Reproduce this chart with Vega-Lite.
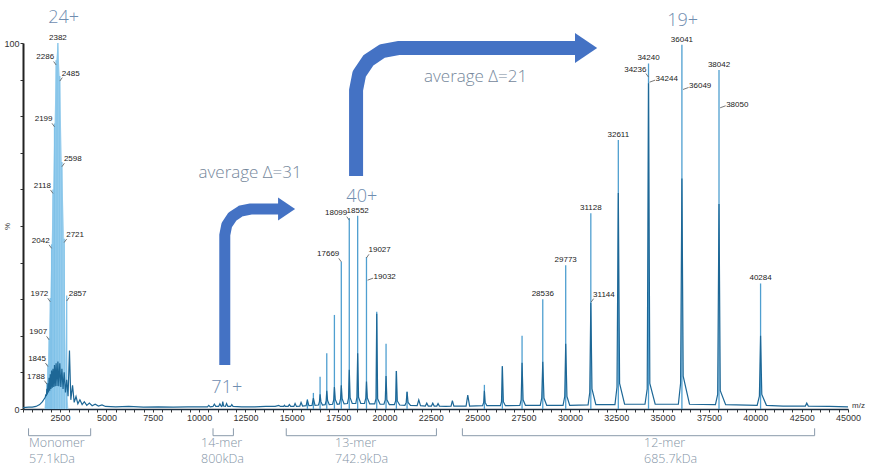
{
  "$schema": "https://vega.github.io/schema/vega-lite/v6.json",
  "width": 825,
  "height": 366,
  "autosize": {"type": "none"},
  "padding": {"left": 23, "top": 43, "right": 21, "bottom": 66},
  "background": "white",
  "config": {"view": {"stroke": null}, "font": "Liberation Sans"},
  "datasets": {
    "envelope": [
      {"x": 1650, "y": 0}, {"x": 1731, "y": 3.5}, {"x": 1788, "y": 7.2}, {"x": 1845, "y": 12.2},
      {"x": 1907, "y": 19.5}, {"x": 1972, "y": 30.3}, {"x": 2042, "y": 45}, {"x": 2118, "y": 60},
      {"x": 2199, "y": 78}, {"x": 2286, "y": 95.3}, {"x": 2382, "y": 100}, {"x": 2485, "y": 91},
      {"x": 2598, "y": 67.5}, {"x": 2721, "y": 46.5}, {"x": 2790, "y": 20}, {"x": 2850, "y": 6}, {"x": 2950, "y": 0}
    ],
    "peaks": [
      {"x": 1731, "y": 3.5, "s": "m"}, {"x": 1788, "y": 7.2, "s": "m"}, {"x": 1845, "y": 12.2, "s": "m"},
      {"x": 1907, "y": 19.5, "s": "m"}, {"x": 1972, "y": 30.3, "s": "m"}, {"x": 2042, "y": 45, "s": "m"},
      {"x": 2118, "y": 60, "s": "m"}, {"x": 2199, "y": 78, "s": "m"}, {"x": 2286, "y": 95.3, "s": "m"},
      {"x": 2382, "y": 100, "s": "m"}, {"x": 2485, "y": 91, "s": "m"}, {"x": 2598, "y": 67.5, "s": "m"},
      {"x": 2721, "y": 46.5, "s": "m"}, {"x": 2857, "y": 31, "s": "m"},
      {"x": 15840, "y": 2.7, "s": "o"}, {"x": 16163, "y": 4.4, "s": "o"}, {"x": 16524, "y": 8.8, "s": "o"},
      {"x": 16885, "y": 15.2, "s": "o"}, {"x": 17297, "y": 25.7, "s": "o"}, {"x": 17669, "y": 40.2, "s": "o"},
      {"x": 18099, "y": 52.2, "s": "o"}, {"x": 18552, "y": 52.8, "s": "o"}, {"x": 19027, "y": 41.5, "s": "o"},
      {"x": 19580, "y": 26.6, "s": "o"}, {"x": 20083, "y": 17.8, "s": "o"}, {"x": 20640, "y": 10.4, "s": "o"},
      {"x": 21216, "y": 4.7, "s": "o"},
      {"x": 25387, "y": 6.6, "s": "o"}, {"x": 26357, "y": 11.7, "s": "o"}, {"x": 27419, "y": 20, "s": "o"},
      {"x": 28536, "y": 30, "s": "o"}, {"x": 29773, "y": 39.3, "s": "o"}, {"x": 31128, "y": 53.5, "s": "o"},
      {"x": 32611, "y": 73.5, "s": "o"}, {"x": 34240, "y": 94.4, "s": "o"}, {"x": 36041, "y": 99.5, "s": "o"},
      {"x": 38042, "y": 92.6, "s": "o"}, {"x": 40284, "y": 34.3, "s": "o"}
    ],
    "trace": [
      {"x": 500, "y": 0.4}, {"x": 800, "y": 0.5}, {"x": 1000, "y": 0.5}, {"x": 1200, "y": 0.7}, {"x": 1400, "y": 1.2},
      {"x": 1550, "y": 2.0}, {"x": 1650, "y": 2.8}, {"x": 1700, "y": 3.2}, {"x": 1731, "y": 4.0}, {"x": 1760, "y": 3.5},
      {"x": 1788, "y": 5.5}, {"x": 1815, "y": 4.0}, {"x": 1845, "y": 7.0}, {"x": 1875, "y": 4.5}, {"x": 1907, "y": 8.5},
      {"x": 1940, "y": 5.0}, {"x": 1972, "y": 9.5}, {"x": 2005, "y": 5.5}, {"x": 2042, "y": 10.5}, {"x": 2080, "y": 5.8},
      {"x": 2118, "y": 11.0}, {"x": 2160, "y": 6.0}, {"x": 2199, "y": 12.0}, {"x": 2240, "y": 6.2}, {"x": 2286, "y": 12.5},
      {"x": 2335, "y": 6.3}, {"x": 2382, "y": 13.0}, {"x": 2430, "y": 6.2}, {"x": 2485, "y": 12.5}, {"x": 2540, "y": 6.0},
      {"x": 2598, "y": 11.0}, {"x": 2660, "y": 5.5}, {"x": 2721, "y": 10.0}, {"x": 2790, "y": 4.5}, {"x": 2857, "y": 8.0},
      {"x": 2930, "y": 3.5}, {"x": 3006, "y": 16.0}, {"x": 3080, "y": 2.5}, {"x": 3173, "y": 6.5}, {"x": 3260, "y": 1.8},
      {"x": 3360, "y": 3.4}, {"x": 3460, "y": 1.4}, {"x": 3570, "y": 2.5}, {"x": 3690, "y": 1.2}, {"x": 3808, "y": 2.0},
      {"x": 3940, "y": 1.0}, {"x": 4080, "y": 1.6}, {"x": 4230, "y": 0.9}, {"x": 4393, "y": 1.3}, {"x": 4570, "y": 0.8},
      {"x": 4760, "y": 1.1}, {"x": 4950, "y": 0.7}, {"x": 5500, "y": 0.6}, {"x": 6200, "y": 0.7}, {"x": 7000, "y": 0.5},
      {"x": 7800, "y": 0.6}, {"x": 8600, "y": 0.5}, {"x": 9400, "y": 0.6}, {"x": 10200, "y": 0.6},
      {"x": 10450, "y": 0.6}, {"x": 10520, "y": 1.0}, {"x": 10600, "y": 0.6}, {"x": 10750, "y": 0.7}, {"x": 10820, "y": 1.3},
      {"x": 10900, "y": 0.7}, {"x": 11050, "y": 0.7}, {"x": 11120, "y": 1.4}, {"x": 11200, "y": 0.7}, {"x": 11240, "y": 0.8},
      {"x": 11276, "y": 2.0}, {"x": 11320, "y": 0.8}, {"x": 11420, "y": 0.7}, {"x": 11480, "y": 1.5}, {"x": 11550, "y": 0.7},
      {"x": 11700, "y": 0.7}, {"x": 11760, "y": 1.2}, {"x": 11830, "y": 0.7}, {"x": 12300, "y": 0.6}, {"x": 13000, "y": 0.6},
      {"x": 13600, "y": 0.7}, {"x": 14100, "y": 0.7}, {"x": 14300, "y": 1.0}, {"x": 14380, "y": 0.7}, {"x": 14560, "y": 0.7},
      {"x": 14600, "y": 1.0}, {"x": 14650, "y": 0.7},
      {"x": 14800, "y": 0.7}, {"x": 14868, "y": 1.2}, {"x": 14940, "y": 0.7},
      {"x": 15110, "y": 0.7}, {"x": 15175, "y": 1.5}, {"x": 15250, "y": 0.7},
      {"x": 15430, "y": 0.8}, {"x": 15499, "y": 1.8}, {"x": 15580, "y": 0.8},
      {"x": 15770, "y": 0.9}, {"x": 15840, "y": 2.4}, {"x": 15920, "y": 0.9},
      {"x": 16090, "y": 1.0}, {"x": 16163, "y": 3.0}, {"x": 16250, "y": 1.0},
      {"x": 16440, "y": 1.1}, {"x": 16490, "y": 2.0}, {"x": 16524, "y": 4.0}, {"x": 16570, "y": 2.0}, {"x": 16650, "y": 1.1},
      {"x": 16800, "y": 1.2}, {"x": 16850, "y": 2.2}, {"x": 16885, "y": 5.0}, {"x": 16930, "y": 2.3}, {"x": 17020, "y": 1.2},
      {"x": 17200, "y": 1.3}, {"x": 17260, "y": 2.5}, {"x": 17297, "y": 6.0}, {"x": 17345, "y": 2.6}, {"x": 17450, "y": 1.3},
      {"x": 17570, "y": 1.4}, {"x": 17630, "y": 2.8}, {"x": 17669, "y": 6.5}, {"x": 17715, "y": 2.8}, {"x": 17820, "y": 1.4},
      {"x": 18000, "y": 1.5}, {"x": 18060, "y": 3.0}, {"x": 18099, "y": 10.7}, {"x": 18145, "y": 3.1}, {"x": 18260, "y": 1.5},
      {"x": 18450, "y": 1.5}, {"x": 18510, "y": 3.2}, {"x": 18552, "y": 15.2}, {"x": 18600, "y": 3.2}, {"x": 18720, "y": 1.5},
      {"x": 18920, "y": 1.5}, {"x": 18990, "y": 3.0}, {"x": 19027, "y": 7.5}, {"x": 19075, "y": 3.0}, {"x": 19200, "y": 1.4},
      {"x": 19470, "y": 1.4}, {"x": 19540, "y": 2.8}, {"x": 19580, "y": 26.0}, {"x": 19630, "y": 2.8}, {"x": 19760, "y": 1.3},
      {"x": 19970, "y": 1.3}, {"x": 20040, "y": 2.5}, {"x": 20083, "y": 9.0}, {"x": 20130, "y": 2.5}, {"x": 20260, "y": 1.2},
      {"x": 20530, "y": 1.2}, {"x": 20600, "y": 2.2}, {"x": 20640, "y": 10.4}, {"x": 20690, "y": 2.2}, {"x": 20820, "y": 1.1},
      {"x": 21100, "y": 1.0}, {"x": 21170, "y": 1.8}, {"x": 21216, "y": 4.7}, {"x": 21270, "y": 1.8}, {"x": 21400, "y": 1.0},
      {"x": 21760, "y": 0.9}, {"x": 21848, "y": 2.5}, {"x": 21940, "y": 0.9},
      {"x": 22200, "y": 0.8}, {"x": 22279, "y": 1.6}, {"x": 22360, "y": 0.8},
      {"x": 22530, "y": 0.8}, {"x": 22602, "y": 1.6}, {"x": 22680, "y": 0.8},
      {"x": 22820, "y": 0.8}, {"x": 22888, "y": 1.5}, {"x": 22960, "y": 0.8},
      {"x": 23300, "y": 0.7},
      {"x": 23590, "y": 0.8}, {"x": 23661, "y": 2.3}, {"x": 23740, "y": 0.8},
      {"x": 24400, "y": 0.8}, {"x": 24490, "y": 3.8}, {"x": 24590, "y": 0.8},
      {"x": 25290, "y": 0.9}, {"x": 25350, "y": 1.8}, {"x": 25387, "y": 5.0}, {"x": 25430, "y": 1.8}, {"x": 25520, "y": 0.9},
      {"x": 26250, "y": 0.9}, {"x": 26310, "y": 2.0}, {"x": 26357, "y": 11.7}, {"x": 26410, "y": 2.0}, {"x": 26520, "y": 0.9},
      {"x": 27300, "y": 1.0}, {"x": 27370, "y": 2.5}, {"x": 27419, "y": 12.6}, {"x": 27475, "y": 2.5}, {"x": 27600, "y": 1.0},
      {"x": 28400, "y": 1.0}, {"x": 28480, "y": 3.0}, {"x": 28536, "y": 12.9}, {"x": 28600, "y": 3.0}, {"x": 28750, "y": 1.0},
      {"x": 29630, "y": 1.0}, {"x": 29720, "y": 3.4}, {"x": 29773, "y": 17.8}, {"x": 29840, "y": 3.4}, {"x": 29990, "y": 1.0},
      {"x": 30980, "y": 1.1}, {"x": 31070, "y": 4.5}, {"x": 31128, "y": 29.0}, {"x": 31190, "y": 5.5}, {"x": 31400, "y": 1.2},
      {"x": 32430, "y": 1.2}, {"x": 32540, "y": 6.0}, {"x": 32611, "y": 59.0}, {"x": 32680, "y": 7.0}, {"x": 32950, "y": 1.3},
      {"x": 34050, "y": 1.3}, {"x": 34170, "y": 5.5}, {"x": 34240, "y": 89.0}, {"x": 34310, "y": 7.0}, {"x": 34600, "y": 1.3},
      {"x": 35850, "y": 1.3}, {"x": 35970, "y": 7.0}, {"x": 36041, "y": 63.0}, {"x": 36110, "y": 9.0}, {"x": 36450, "y": 1.3},
      {"x": 37850, "y": 1.2}, {"x": 37970, "y": 4.0}, {"x": 38042, "y": 56.0}, {"x": 38110, "y": 5.0}, {"x": 38400, "y": 1.2},
      {"x": 40100, "y": 1.0}, {"x": 40220, "y": 3.5}, {"x": 40284, "y": 20.0}, {"x": 40350, "y": 4.0}, {"x": 40600, "y": 1.0},
      {"x": 41500, "y": 0.8},
      {"x": 42700, "y": 0.8}, {"x": 42775, "y": 1.6}, {"x": 42860, "y": 0.8},
      {"x": 44000, "y": 0.7}, {"x": 45000, "y": 0.6}
    ],
    "labels": [
      {"x": 2382, "y": 100, "label": "2382", "side": "T"},
      {"x": 2286, "y": 94.0, "label": "2286", "side": "L"},
      {"x": 2485, "y": 89.6, "label": "2485", "side": "R"},
      {"x": 2199, "y": 77.1, "label": "2199", "side": "L"},
      {"x": 2598, "y": 66.2, "label": "2598", "side": "R"},
      {"x": 2118, "y": 58.9, "label": "2118", "side": "L"},
      {"x": 2721, "y": 45.5, "label": "2721", "side": "R"},
      {"x": 2042, "y": 43.9, "label": "2042", "side": "L"},
      {"x": 1972, "y": 29.3, "label": "1972", "side": "L"},
      {"x": 2857, "y": 29.5, "label": "2857", "side": "R"},
      {"x": 1907, "y": 18.9, "label": "1907", "side": "L"},
      {"x": 1845, "y": 11.6, "label": "1845", "side": "L"},
      {"x": 1788, "y": 6.8, "label": "1788", "side": "L"},
      {"x": 17669, "y": 40.2, "label": "17669", "side": "L"},
      {"x": 18099, "y": 51.6, "label": "18099", "side": "L"},
      {"x": 18552, "y": 52.8, "label": "18552", "side": "T"},
      {"x": 19027, "y": 41.3, "label": "19027", "side": "R"},
      {"x": 19032, "y": 35.2, "label": "19032", "side": "RL"},
      {"x": 28536, "y": 30.0, "label": "28536", "side": "T"},
      {"x": 29773, "y": 39.3, "label": "29773", "side": "T"},
      {"x": 31128, "y": 53.5, "label": "31128", "side": "T"},
      {"x": 31144, "y": 29.2, "label": "31144", "side": "R"},
      {"x": 32611, "y": 73.5, "label": "32611", "side": "T"},
      {"x": 34236, "y": 90.7, "label": "34236", "side": "L"},
      {"x": 34240, "y": 94.4, "label": "34240", "side": "T"},
      {"x": 34244, "y": 89.3, "label": "34244", "side": "RL"},
      {"x": 36041, "y": 99.5, "label": "36041", "side": "T"},
      {"x": 36049, "y": 87.3, "label": "36049", "side": "RL"},
      {"x": 38042, "y": 92.6, "label": "38042", "side": "T"},
      {"x": 38050, "y": 82.3, "label": "38050", "side": "RL"},
      {"x": 40284, "y": 34.3, "label": "40284", "side": "T"}
    ],
    "notes": [
      {"x": 2689, "y": 106.7, "t": "24+", "k": "charge"},
      {"x": 18773, "y": 58.0, "t": "40+", "k": "charge"},
      {"x": 36076, "y": 106.1, "t": "19+", "k": "charge"},
      {"x": 11491, "y": 5.65, "t": "71+", "k": "charge"},
      {"x": 12748, "y": 64.4, "t": "average Δ=31", "k": "delta"},
      {"x": 24911, "y": 90.7, "t": "average Δ=21", "k": "delta"}
    ],
    "arrows": [
      {"a": 1, "i": 0, "x": 11384, "y": 12.02},
      {"a": 1, "i": 1, "x": 11384, "y": 47.54},
      {"a": 1, "i": 2, "x": 11491, "y": 50.26},
      {"a": 1, "i": 3, "x": 11793, "y": 52.57},
      {"a": 1, "i": 4, "x": 12249, "y": 54.10},
      {"a": 1, "i": 5, "x": 12786, "y": 54.64},
      {"a": 1, "i": 6, "x": 14400, "y": 54.64},
      {"a": 2, "i": 0, "x": 18466, "y": 63.66},
      {"a": 2, "i": 1, "x": 18466, "y": 87.16},
      {"a": 2, "i": 2, "x": 18638, "y": 91.55},
      {"a": 2, "i": 3, "x": 19129, "y": 95.27},
      {"a": 2, "i": 4, "x": 19864, "y": 97.76},
      {"a": 2, "i": 5, "x": 20731, "y": 98.63},
      {"a": 2, "i": 6, "x": 30440, "y": 98.63}
    ],
    "heads": [
      {"a": 1, "x": 14717, "y": 54.64},
      {"a": 2, "x": 30872, "y": 98.63}
    ],
    "brackets": [
      {"x": 800, "x2": 4150, "lx": 828, "y": 0, "name": "Monomer", "mass": "57.1kDa"},
      {"x": 10750, "x2": 11850, "lx": 10105, "y": 0, "name": "14-mer", "mass": "800kDa"},
      {"x": 14700, "x2": 22800, "lx": 17333, "y": 0, "name": "13-mer", "mass": "742.9kDa"},
      {"x": 24200, "x2": 43200, "lx": 34000, "y": 0, "name": "12-mer", "mass": "685.7kDa"}
    ],
    "axisend": [
      {"x": 45000, "y": 0, "t": "m/z"}
    ]
  },
  "encoding": {
    "x": {
      "field": "x", "type": "quantitative",
      "scale": {"domain": [500, 45000], "nice": false, "zero": false},
      "axis": {
        "title": null, "tickCount": 90,
        "labelExpr": "datum.value % 2500 === 0 ? format(datum.value, 'd') : ''",
        "labelFontSize": 9, "labelColor": "#333", "labelFlush": false, "labelOverlap": false, "labelBound": false,
        "tickSize": 3, "tickColor": "#333", "domainColor": "#1c2e40", "domainWidth": 1.5, "grid": false, "labelPadding": 1
      }
    },
    "y": {
      "field": "y", "type": "quantitative",
      "scale": {"domain": [0, 100], "nice": false},
      "axis": {
        "title": "%", "values": [0, 10, 20, 30, 40, 50, 60, 70, 80, 90, 100],
        "labelExpr": "datum.value == 0 || datum.value == 100 ? datum.label : ''",
        "tickSize": 3, "labelPadding": 1, "labelFontSize": 9, "labelColor": "#333",
        "domainWidth": 2, "domainColor": "#222", "tickColor": "#333", "grid": false,
        "titleFontSize": 8, "titleFontWeight": "normal", "titleColor": "#333", "titleX": -12, "titleY": 183
      }
    }
  },
  "layer": [
    {"data": {"name": "envelope"}, "mark": {"type": "area", "color": "#a9d6f0", "opacity": 1}},
    {
      "data": {"name": "peaks"},
      "mark": {"type": "rule", "strokeWidth": 1.3},
      "encoding": {
        "y2": {"datum": 0},
        "color": {"field": "s", "type": "nominal", "scale": {"domain": ["m", "o"], "range": ["#7fc1e8", "#4f9fd0"]}, "legend": null}
      }
    },
    {"data": {"name": "trace"}, "mark": {"type": "line", "color": "#1d6796", "strokeWidth": 1.2}},
    {
      "data": {"name": "labels"}, "transform": [{"filter": "datum.side === 'T'"}],
      "mark": {"type": "text", "align": "center", "baseline": "bottom", "dy": -1, "fontSize": 8, "color": "#222"},
      "encoding": {"text": {"field": "label"}}
    },
    {
      "data": {"name": "labels"}, "transform": [{"filter": "datum.side === 'L'"}],
      "mark": {"type": "text", "align": "right", "baseline": "middle", "dx": -2, "dy": -7.5, "fontSize": 8, "color": "#222"},
      "encoding": {"text": {"field": "label"}}
    },
    {
      "data": {"name": "labels"}, "transform": [{"filter": "datum.side === 'R'"}],
      "mark": {"type": "text", "align": "left", "baseline": "middle", "dx": 2, "dy": -7.5, "fontSize": 8, "color": "#222"},
      "encoding": {"text": {"field": "label"}}
    },
    {
      "data": {"name": "labels"}, "transform": [{"filter": "datum.side === 'RL'"}],
      "mark": {"type": "text", "align": "left", "baseline": "middle", "dx": 7, "dy": -3, "fontSize": 8, "color": "#222"},
      "encoding": {"text": {"field": "label"}}
    },
    {
      "data": {"name": "labels"}, "transform": [{"filter": "datum.side === 'L'"}],
      "mark": {"type": "rule", "color": "#555", "strokeWidth": 0.8, "x2Offset": -2.5, "y2Offset": -3.5},
      "encoding": {"x2": {"field": "x"}, "y2": {"field": "y"}}
    },
    {
      "data": {"name": "labels"}, "transform": [{"filter": "datum.side === 'R'"}],
      "mark": {"type": "rule", "color": "#555", "strokeWidth": 0.8, "x2Offset": 2.5, "y2Offset": -3.5},
      "encoding": {"x2": {"field": "x"}, "y2": {"field": "y"}}
    },
    {
      "data": {"name": "labels"}, "transform": [{"filter": "datum.side === 'RL'"}],
      "mark": {"type": "rule", "color": "#555", "strokeWidth": 0.8, "xOffset": 1, "x2Offset": 6.5, "y2Offset": -2},
      "encoding": {"x2": {"field": "x"}, "y2": {"field": "y"}}
    },
    {
      "data": {"name": "notes"}, "transform": [{"filter": "datum.k === 'charge'"}],
      "mark": {"type": "text", "font": "Open Sans", "fontWeight": 300, "fontSize": 18, "color": "#6f8db0", "align": "center", "baseline": "middle"},
      "encoding": {"text": {"field": "t"}}
    },
    {
      "data": {"name": "notes"}, "transform": [{"filter": "datum.k === 'delta'"}],
      "mark": {"type": "text", "font": "Open Sans", "fontWeight": 300, "fontSize": 17, "color": "#75879b", "align": "center", "baseline": "middle"},
      "encoding": {"text": {"field": "t"}}
    },
    {
      "data": {"name": "arrows"}, "transform": [{"filter": "datum.a === 1"}],
      "mark": {"type": "line", "color": "#4472c4", "strokeWidth": 11, "strokeJoin": "round", "strokeCap": "butt"},
      "encoding": {"order": {"field": "i", "type": "quantitative"}}
    },
    {
      "data": {"name": "arrows"}, "transform": [{"filter": "datum.a === 2"}],
      "mark": {"type": "line", "color": "#4472c4", "strokeWidth": 14, "strokeJoin": "round", "strokeCap": "butt"},
      "encoding": {"order": {"field": "i", "type": "quantitative"}}
    },
    {
      "data": {"name": "heads"}, "transform": [{"filter": "datum.a === 1"}],
      "mark": {"type": "point", "shape": "M-0.74,-1L0.74,0L-0.74,1Z", "size": 529, "filled": true, "opacity": 1, "color": "#4472c4", "strokeWidth": 0}
    },
    {
      "data": {"name": "heads"}, "transform": [{"filter": "datum.a === 2"}],
      "mark": {"type": "point", "shape": "M-0.74,-1L0.74,0L-0.74,1Z", "size": 900, "filled": true, "opacity": 1, "color": "#4472c4", "strokeWidth": 0}
    },
    {
      "data": {"name": "brackets"},
      "mark": {"type": "rule", "color": "#8a9aab", "strokeWidth": 1, "yOffset": 26.7},
      "encoding": {"x2": {"field": "x2"}}
    },
    {
      "data": {"name": "brackets"},
      "mark": {"type": "rule", "color": "#8a9aab", "strokeWidth": 1, "yOffset": 19.3, "y2Offset": 26.7},
      "encoding": {"y2": {"field": "y"}}
    },
    {
      "data": {"name": "brackets"},
      "mark": {"type": "rule", "color": "#8a9aab", "strokeWidth": 1, "yOffset": 19.3, "y2Offset": 26.7},
      "encoding": {"x": {"field": "x2", "type": "quantitative"}, "y2": {"field": "y"}}
    },
    {
      "data": {"name": "brackets"},
      "mark": {"type": "text", "font": "Open Sans", "fontWeight": 300, "fontSize": 12.5, "color": "#8494a6", "align": "left", "baseline": "middle", "dy": 33.7},
      "encoding": {"x": {"field": "lx", "type": "quantitative"}, "text": {"field": "name"}}
    },
    {
      "data": {"name": "brackets"},
      "mark": {"type": "text", "font": "Open Sans", "fontWeight": 300, "fontSize": 12.5, "color": "#8494a6", "align": "left", "baseline": "middle", "dy": 50.3},
      "encoding": {"x": {"field": "lx", "type": "quantitative"}, "text": {"field": "mass"}}
    },
    {
      "data": {"name": "axisend"},
      "mark": {"type": "text", "align": "left", "baseline": "middle", "dx": 4, "dy": -3, "fontSize": 8, "color": "#333"},
      "encoding": {"text": {"field": "t"}}
    }
  ]
}
